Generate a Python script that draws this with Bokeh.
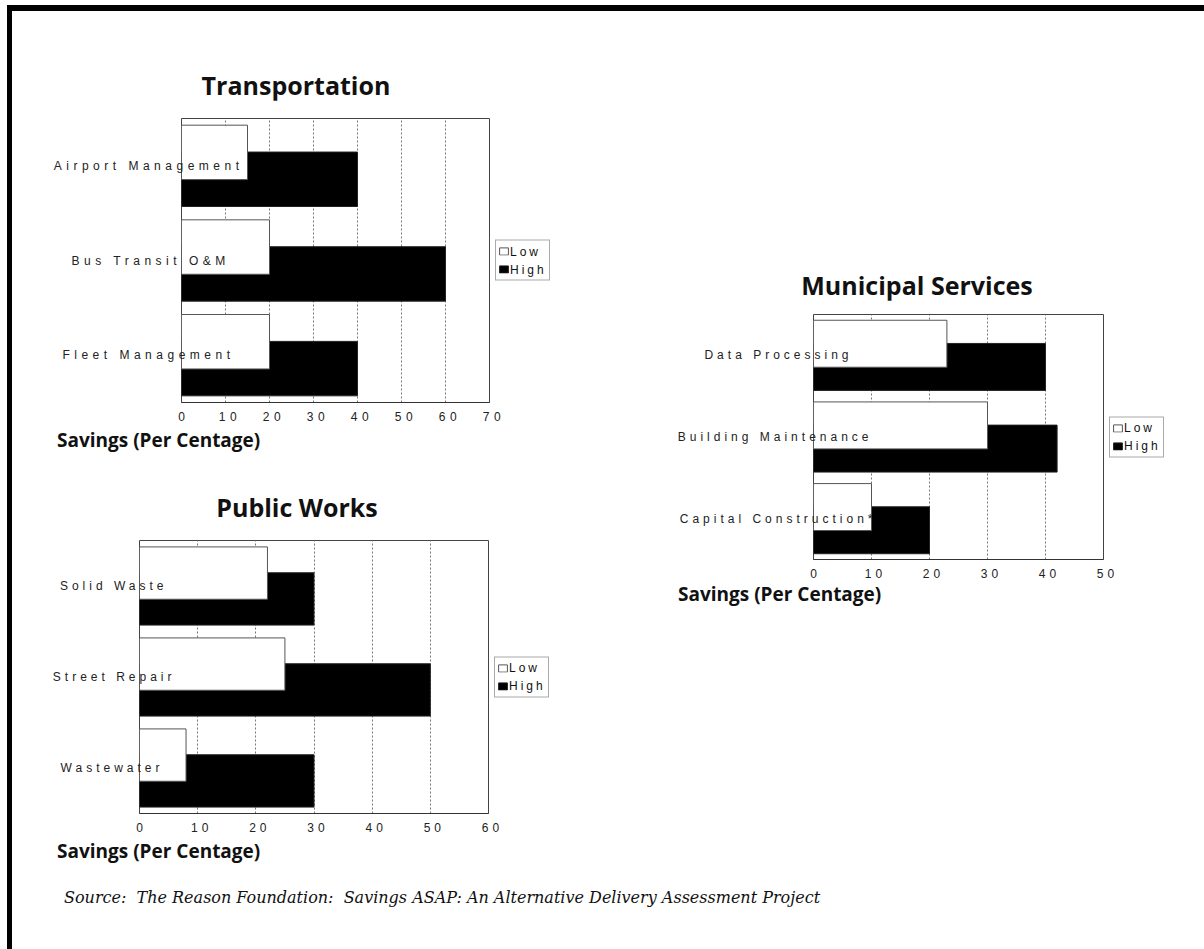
from bokeh.plotting import figure
from bokeh.models import (ColumnDataSource, FactorRange, Range1d, FixedTicker,
                          Legend, Div, Spacer)
from bokeh.layouts import column, row
from bokeh.transform import dodge
from bokeh.embed import file_html
from bokeh.resources import INLINE

# ---------------- data ----------------
transport_categories = ["Airport Management", "Bus Transit O&M", "Fleet Management"]
transport_low = [15, 20, 20]
transport_high = [40, 60, 40]
transport_ticks = [0, 10, 20, 30, 40, 50, 60, 70]

public_categories = ["Solid Waste", "Street Repair", "Wastewater"]
public_low = [22, 25, 8]
public_high = [30, 50, 30]
public_ticks = [0, 10, 20, 30, 40, 50, 60]

municipal_categories = ["Data Processing", "Building Maintenance", "Capital Construction*"]
municipal_low = [23, 30, 10]
municipal_high = [40, 42, 20]
municipal_ticks = [0, 10, 20, 30, 40, 50]

series_names = ["Low", "High"]
x_label = "Savings (Per Centage)"
source_note = ("Source:&nbsp; The Reason Foundation:&nbsp; Savings ASAP: "
               "An Alternative Delivery Assessment Project")

AX_FONT = "Liberation Sans"
LOW_STYLE = dict(fill_color="white", line_color="#555", line_width=1)
HIGH_STYLE = dict(fill_color="black", line_color="#222", line_width=1)
BAR_H = 0.575
OFFSET = 0.142


def bar_chart(src, cats, ticks, fw, fh, left, top, bottom, label_standoff):
    p = figure(frame_width=fw, frame_height=fh,
               y_range=FactorRange(factors=list(reversed(cats))),
               x_range=Range1d(ticks[0], ticks[-1]),
               output_backend="svg", toolbar_location=None, title=None,
               min_border_left=left, min_border_right=20,
               min_border_top=top, min_border_bottom=bottom)
    p.hbar(y=dodge("cat", -OFFSET, range=p.y_range), left=0, right="high",
           height=BAR_H, source=src, **HIGH_STYLE)
    p.hbar(y=dodge("cat", OFFSET, range=p.y_range), left=0, right="low",
           height=BAR_H, source=src, **LOW_STYLE)
    p.background_fill_color = "white"
    p.border_fill_color = "white"
    p.outline_line_color = "#444"
    p.outline_line_width = 1

    p.xaxis.ticker = FixedTicker(ticks=ticks)
    p.xaxis.major_tick_line_color = None
    p.xaxis.minor_tick_line_color = None
    p.xaxis.axis_line_color = "#333"
    p.xaxis.major_label_standoff = 3
    p.xaxis.major_label_text_font = AX_FONT
    p.xaxis.major_label_text_font_size = "12px"
    p.xaxis.major_label_text_color = "#222"

    p.yaxis.axis_line_color = None
    p.yaxis.major_tick_line_color = None
    p.yaxis.minor_tick_line_color = None
    p.yaxis.major_label_standoff = label_standoff
    p.yaxis.major_label_text_font = AX_FONT
    p.yaxis.major_label_text_font_size = "12px"
    p.yaxis.major_label_text_color = "#222"

    p.xgrid.grid_line_color = "#777"
    p.xgrid.grid_line_dash = "2 2"
    p.xgrid.grid_line_width = 1
    p.ygrid.grid_line_color = None
    return p


def legend_box(src, cats, width, fh, top, bottom):
    lf = figure(frame_width=width, frame_height=fh, output_backend="svg",
                toolbar_location=None, title=None,
                x_axis_location=None, y_axis_location=None,
                x_range=Range1d(0, 1),
                y_range=FactorRange(factors=list(reversed(cats))),
                min_border_left=0, min_border_right=0,
                min_border_top=top, min_border_bottom=bottom)
    lf.outline_line_color = None
    lf.grid.grid_line_color = None
    lf.background_fill_alpha = 0
    lf.border_fill_alpha = 0
    r_low = lf.hbar(y="cat", left=0, right="low", height=BAR_H, source=src,
                    visible=False, **LOW_STYLE)
    r_high = lf.hbar(y="cat", left=0, right="high", height=BAR_H, source=src,
                     visible=False, **HIGH_STYLE)
    legend = Legend(items=[(series_names[0], [r_low]), (series_names[1], [r_high])],
                    location="center_left", orientation="vertical")
    legend.margin = 0
    legend.padding = 2
    legend.spacing = 1
    legend.glyph_width = 11
    legend.glyph_height = 9
    legend.label_height = 17
    legend.label_standoff = 1
    legend.label_text_font = AX_FONT
    legend.label_text_font_size = "12px"
    legend.label_text_color = "#111"
    legend.border_line_color = "#555"
    legend.border_line_width = 1
    legend.background_fill_color = "white"
    legend.background_fill_alpha = 1
    legend.inactive_fill_alpha = 0
    lf.add_layout(legend)
    return lf


def title_div(text, width, height):
    return Div(text=text, width=width, height=height, margin=0,
               styles={"font-family": "Open Sans", "font-weight": "bold",
                       "font-size": "25px", "text-align": "center",
                       "line-height": f"{height}px", "color": "#111"})


def xlabel_div(text, width, height, pad):
    return Div(text=text, width=width, height=height, margin=0,
               styles={"font-family": "Open Sans", "font-weight": "bold",
                       "font-size": "19px", "text-align": "left",
                       "line-height": f"{height}px", "padding-left": f"{pad}px",
                       "color": "#111", "white-space": "nowrap"})


def chart_block(cats, low, high, ticks, fw, fh, left, top, bottom, standoff,
                legend_w, spacing):
    src = ColumnDataSource(dict(cat=cats, low=low, high=high))
    p = bar_chart(src, cats, ticks, fw, fh, left, top, bottom, standoff)
    lf = legend_box(src, cats, legend_w, fh, top, bottom)
    return row(column(p, styles={"letter-spacing": spacing}),
               column(lf, styles={"letter-spacing": "3px"}, margin=(0, 0, 0, -14)))


block_t = chart_block(transport_categories, transport_low, transport_high,
                      transport_ticks, fw=308, fh=284, left=169, top=18, bottom=24,
                      standoff=13, legend_w=65, spacing="4.5px")
block_p = chart_block(public_categories, public_low, public_high,
                      public_ticks, fw=349, fh=273, left=127, top=18, bottom=24,
                      standoff=10, legend_w=66, spacing="4px")
block_m = chart_block(municipal_categories, municipal_low, municipal_high,
                      municipal_ticks, fw=290, fh=245, left=253, top=14, bottom=24,
                      standoff=15, legend_w=95, spacing="4px")

left_col = column(
    Spacer(width=548, height=59),
    row(Spacer(width=20, height=30), title_div("Transportation", 528, 30)),
    block_t,
    xlabel_div(x_label, 503, 28, 45),
    Spacer(width=548, height=38),
    row(Spacer(width=22, height=30), title_div("Public Works", 526, 30)),
    block_p,
    xlabel_div(x_label, 503, 28, 45),
)

right_col = column(
    Spacer(width=644, height=259),
    row(Spacer(width=70, height=30), title_div("Municipal Services", 574, 30)),
    block_m,
    xlabel_div(x_label, 526, 22, 118),
)

source_div = Div(text=source_note, width=1140, height=26, margin=0,
                 styles={"font-family": "DejaVu Serif", "font-style": "italic",
                         "font-size": "16px", "line-height": "26px",
                         "padding-left": "52px", "color": "#111",
                         "white-space": "nowrap"})

black = {"background-color": "black"}
main = column(
    Div(text="", width=1192, height=6, margin=0, styles=black),
    row(left_col, right_col),
    Spacer(width=1192, height=20),
    source_div,
)

root = column(
    Spacer(width=1204, height=5),
    row(Spacer(width=7, height=944),
        Div(text="", width=5, height=944, margin=0, styles=black), main),
)

open("out.html", "w").write(file_html(root, INLINE))
